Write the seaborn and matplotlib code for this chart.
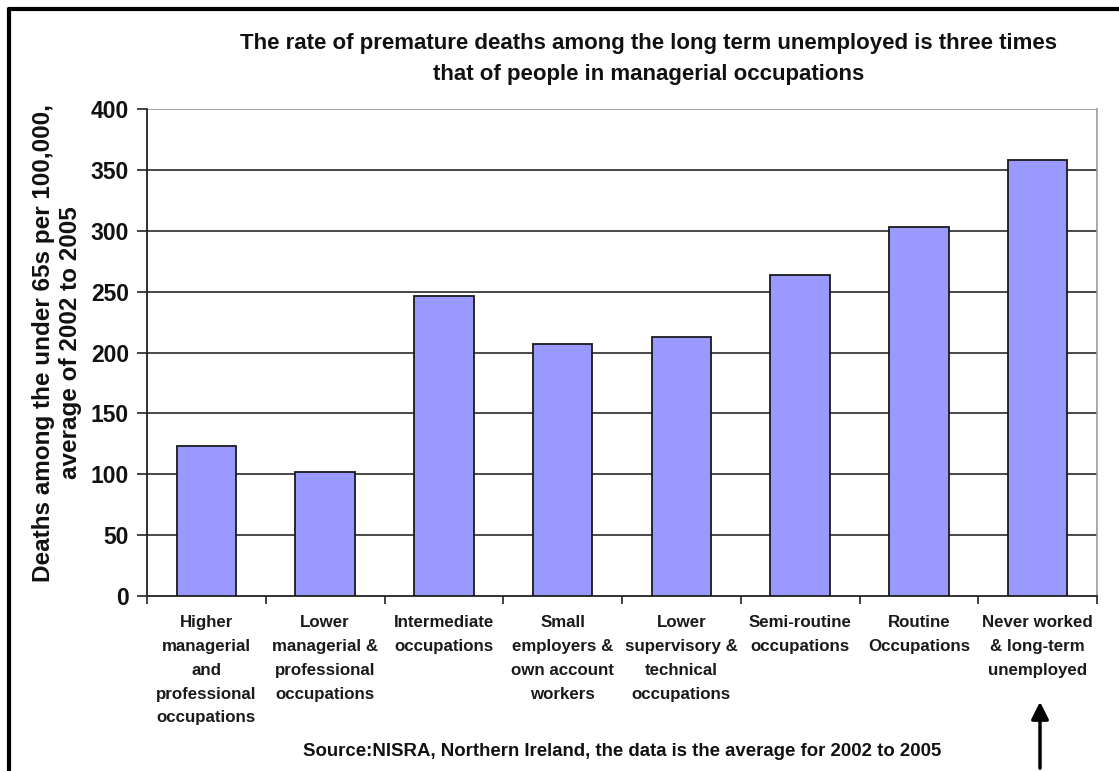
import matplotlib
matplotlib.use("Agg")
import matplotlib.pyplot as plt
import seaborn as sns
import numpy as np
import pandas as pd
from matplotlib.lines import Line2D

categories = [
    "Higher\nmanagerial\nand\nprofessional\noccupations",
    "Lower\nmanagerial &\nprofessional\noccupations",
    "Intermediate\noccupations",
    "Small\nemployers &\nown account\nworkers",
    "Lower\nsupervisory &\ntechnical\noccupations",
    "Semi-routine\noccupations",
    "Routine\nOccupations",
    "Never worked\n& long-term\nunemployed",
]
deaths = [123, 102, 246, 207, 213, 264, 303, 358]
yticks = [0, 50, 100, 150, 200, 250, 300, 350, 400]

title = ("The rate of premature deaths among the long term unemployed is three times\n"
         "that of people in managerial occupations")
ylabel = "Deaths among the under 65s per 100,000,\naverage of 2002 to 2005"
source = "Source:NISRA, Northern Ireland, the data is the average for 2002 to 2005"

sns.set_theme(style="white")
plt.rcParams["font.family"] = ["Liberation Sans", "DejaVu Sans"]
plt.rcParams["font.weight"] = "bold"

W, H = 1119, 771
fig = plt.figure(figsize=(W / 100, H / 100), dpi=100)
fig.patch.set_facecolor("white")
ax = fig.add_axes([147 / W, 1 - 596 / H, (1097 - 147) / W, (596 - 109) / H])

df = pd.DataFrame({"cat": categories, "val": deaths})
sns.barplot(data=df, x="cat", y="val", color="#9999FF", edgecolor="#1a1a1a",
            linewidth=1.3, width=0.5, saturation=1, ax=ax, zorder=3)

ax.set_ylim(0, 400)
ax.set_xlim(-0.5, len(categories) - 0.5)
ax.set_yticks(yticks)
ax.set_yticklabels([str(v) for v in yticks], fontsize=16.5, fontweight="bold", color="#111111")
for v in yticks[1:-1]:
    ax.axhline(v, color="#2a2a2a", lw=1.2, zorder=1)
ax.axhline(400, color="#9a9a9a", lw=1.2, zorder=1)

ax.set_xticks(range(len(categories)))
ax.set_xticklabels(categories, fontsize=12.2, fontweight="bold", color="#1a1a1a",
                   linespacing=1.73, va="top")
ax.set_xticks(np.arange(-0.5, len(categories), 1), minor=True)
ax.tick_params(axis="x", which="major", length=0, pad=14)
ax.tick_params(axis="x", which="minor", length=6, width=1.2, color="#222222", direction="out", bottom=True)
ax.tick_params(axis="y", length=7, width=1.2, color="#222222", direction="out", left=True, pad=6)

ax.set_xlabel("")
ax.set_ylabel("")
for side in ["left", "bottom"]:
    ax.spines[side].set_color("#222222")
    ax.spines[side].set_linewidth(1.3)
ax.spines["right"].set_color("#9a9a9a")
ax.spines["right"].set_linewidth(1.2)
ax.spines["top"].set_visible(False)

fig.text(649 / W, 1 - 59 / H, title, ha="center", va="center", fontsize=16,
         fontweight="bold", color="#111111", linespacing=1.6)
fig.text(57 / W, 1 - 343 / H, ylabel, rotation=90, ha="center", va="center",
         multialignment="center", fontsize=17.5, fontweight="bold", color="#111111",
         linespacing=1.2)
fig.text(622 / W, 1 - 752 / H, source, ha="center", va="center", fontsize=13.4,
         fontweight="bold", color="#111111")

# border lines (left and top)
fig.add_artist(Line2D([9 / W, 9 / W], [0, 1 - 9 / H], color="black", lw=3))
fig.add_artist(Line2D([9 / W, 1], [1 - 9 / H, 1 - 9 / H], color="black", lw=3))

# arrow pointing up to the last category
ax.annotate("", xy=(1040 / W, 1 - 699 / H), xycoords="figure fraction",
            xytext=(1040 / W, 0), textcoords="figure fraction",
            arrowprops=dict(arrowstyle="-|>", color="black", lw=2.5, mutation_scale=26))

fig.savefig("out.png", dpi=100)
